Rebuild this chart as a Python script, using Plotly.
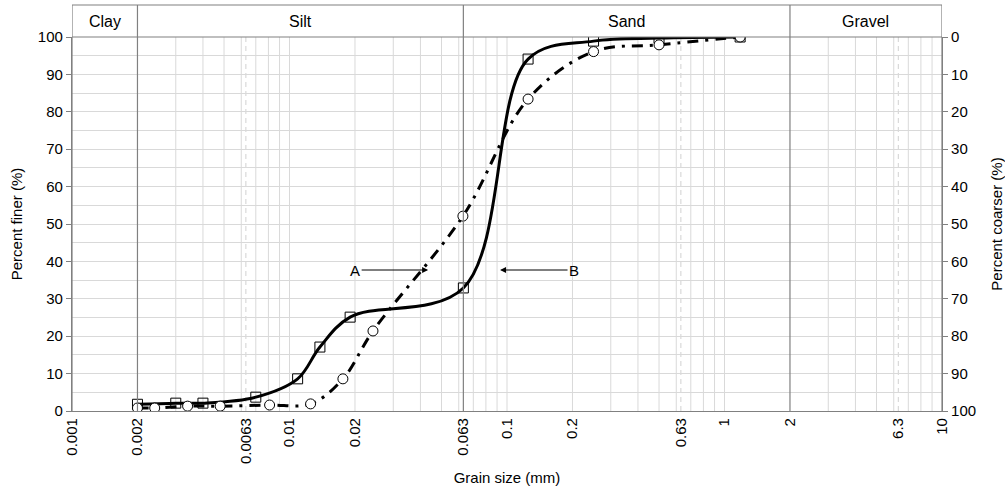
import numpy as np
import plotly.graph_objects as go

# ---------------- data ----------------
size_B = [0.002, 0.003, 0.004, 0.007, 0.0109, 0.0138, 0.019, 0.063, 0.125, 0.25, 0.5, 1.18]
finer_B = [1.8, 2.1, 2.1, 3.7, 8.6, 17.1, 25.1, 32.9, 94.1, 98.9, 99.7, 100]

size_A = [0.002, 0.0024, 0.0034, 0.0048, 0.0081, 0.0125, 0.0176, 0.0242, 0.0627, 0.125, 0.25, 0.5, 1.18]
finer_A = [0.8, 0.8, 1.3, 1.3, 1.6, 1.9, 8.6, 21.4, 52.1, 83.4, 96.1, 97.9, 100]

x_tick_vals = [0.001, 0.002, 0.0063, 0.01, 0.02, 0.063, 0.1, 0.2, 0.63, 1, 2, 6.3, 10]
x_tick_text = ["0.001", "0.002", "0.0063", "0.01", "0.02", "0.063", "0.1", "0.2", "0.63", "1", "2", "6.3", "10"]

zones = ["Clay", "Silt", "Sand", "Gravel"]
zone_bounds = [0.001, 0.002, 0.063, 2, 10]

# ---------------- figure ----------------
FONT = "Liberation Sans, Arial, sans-serif"
GRID = "#d9d9d9"
DARK = "#808080"

fig = go.Figure()

fig.add_trace(go.Scatter(
    x=size_B, y=finer_B, mode="lines+markers", name="B",
    line=dict(color="black", width=3, shape="spline", smoothing=1.0),
    marker=dict(symbol="square-open", size=10, color="black", line=dict(width=1)),
    showlegend=False, hoverinfo="x+y"))

fig.add_trace(go.Scatter(
    x=size_A, y=finer_A, mode="lines+markers", name="A",
    line=dict(color="black", width=3, shape="spline", smoothing=1.0, dash="11px,7px,3px,7px"),
    marker=dict(symbol="circle", size=10, color="white", line=dict(color="black", width=1)),
    showlegend=False, hoverinfo="x+y"))

# dummy trace for right axis
fig.add_trace(go.Scatter(x=[0.001], y=[100], yaxis="y2", mode="markers",
                         marker=dict(opacity=0), showlegend=False, hoverinfo="skip"))

shapes = []
# vertical gridlines (log grid from 0.002 to 10)
grid_vals = []
for dec in [0.001, 0.01, 0.1, 1]:
    for m in range(1, 10):
        v = round(m * dec, 6)
        if v >= 0.002:
            grid_vals.append(v)
for v in grid_vals:
    if v in zone_bounds:
        continue
    shapes.append(dict(type="line", xref="x", yref="paper", x0=v, x1=v, y0=0, y1=1,
                       line=dict(color=GRID, width=1), layer="below"))
for v in [0.0063, 0.63, 6.3]:
    shapes.append(dict(type="line", xref="x", yref="paper", x0=v, x1=v, y0=0, y1=1,
                       line=dict(color=GRID, width=1.2, dash="5px,4px"), layer="below"))

head_top = 1 + 32 / 374.0
# zone boundary lines (through header)
for v in zone_bounds:
    shapes.append(dict(type="line", xref="x", yref="paper", x0=v, x1=v, y0=0, y1=head_top,
                       line=dict(color=DARK, width=1.2), layer="above"))
# header top & bottom lines
for yy in [1, head_top]:
    shapes.append(dict(type="line", xref="paper", yref="paper", x0=0, x1=1, y0=yy, y1=yy,
                       line=dict(color=DARK, width=1.2)))
fig.update_layout(shapes=shapes)

annotations = []
for i, z in enumerate(zones):
    lo, hi = np.log10(zone_bounds[i]), np.log10(zone_bounds[i + 1])
    annotations.append(dict(x=(lo + hi) / 2, y=(1 + head_top) / 2, xref="x", yref="paper",
                            xanchor="center", yanchor="middle",
                            text=z, showarrow=False, font=dict(size=16, color="black", family=FONT)))

# arrows A and B
annotations.append(dict(x=np.log10(0.0434), y=37.7, xref="x", yref="y", text="A",
                        showarrow=True, ax=-73, ay=0, arrowhead=2, arrowsize=1.2, arrowwidth=1,
                        arrowcolor="black", font=dict(size=15, color="black", family=FONT)))
annotations.append(dict(x=np.log10(0.0929), y=37.7, xref="x", yref="y", text="B",
                        showarrow=True, ax=74, ay=0, arrowhead=2, arrowsize=1.2, arrowwidth=1,
                        arrowcolor="black", font=dict(size=15, color="black", family=FONT)))
fig.update_layout(annotations=annotations)

fig.update_layout(
    width=1005, height=492,
    margin=dict(l=72, r=63, t=37, b=81, autoexpand=False),
    plot_bgcolor="white", paper_bgcolor="white",
    font=dict(family=FONT, size=15, color="black"),
    xaxis=dict(
        type="log", range=[-3, 1], automargin=False,
        tickvals=x_tick_vals, ticktext=x_tick_text, tickangle=-90,
        showgrid=False, zeroline=False,
        showline=True, linecolor=DARK, linewidth=1.2,
        ticks="", tickfont=dict(size=15),
        title=dict(text="Grain size (mm)", font=dict(size=15), standoff=9),
    ),
    yaxis=dict(
        range=[0, 100], tickvals=list(range(0, 101, 10)), automargin=False,
        showgrid=True, gridcolor=GRID, gridwidth=1,
        minor=dict(dtick=5, showgrid=True, gridcolor=GRID, gridwidth=1),
        zeroline=False, showline=True, linecolor=DARK, linewidth=1.2,
        ticks="outside", ticklen=5, tickcolor=DARK,
        tickfont=dict(size=15),
        title=dict(text="Percent finer (%)", font=dict(size=15), standoff=11),
    ),
    yaxis2=dict(
        overlaying="y", side="right", range=[100, 0], automargin=False,
        tickvals=list(range(0, 101, 10)),
        showgrid=False, zeroline=False, showline=True, linecolor=DARK, linewidth=1.2,
        ticks="outside", ticklen=5, tickcolor=DARK,
        tickfont=dict(size=15),
        title=dict(text="Percent coarser (%)", font=dict(size=15), standoff=16),
    ),
)

fig.write_html("out.html", config={"displayModeBar": False},
               post_script="document.body.style.margin='0';document.body.style.overflow='hidden';")
